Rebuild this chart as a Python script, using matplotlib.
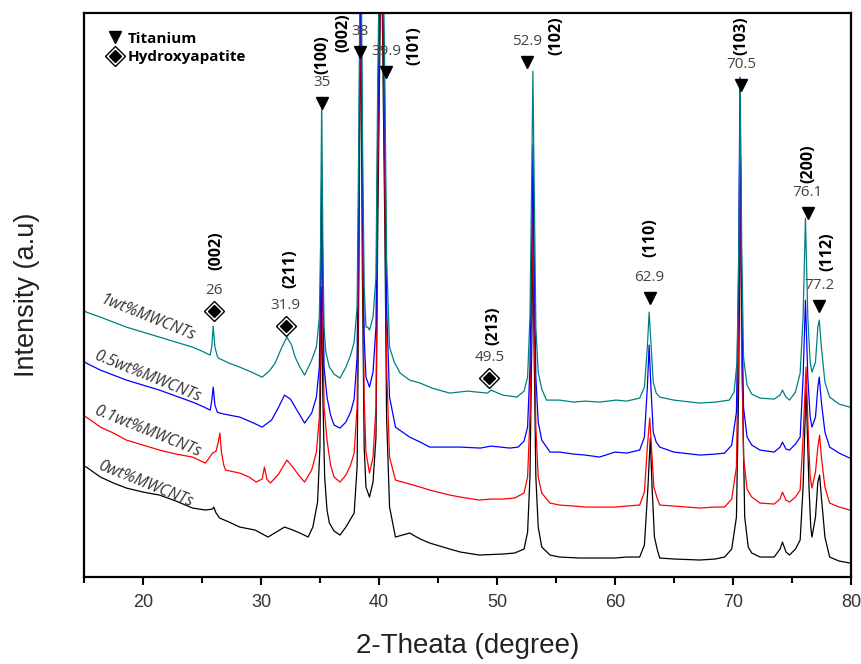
import numpy as np
import matplotlib.pyplot as plt
from matplotlib.lines import Line2D
from matplotlib.legend_handler import HandlerTuple

# XRD patterns, stacked (arbitrary intensity units), pairs of (2-theta, counts)
pat_0wt = np.array([
    (15.0, 111), (15.2, 110), (16.4, 100), (17.5, 94), (18.6, 89), (20.0, 85), (21.4, 82),
    (22.8, 76), (24.2, 69), (25.3, 67), (25.9, 68), (26.0, 70), (26.2, 64), (26.5, 59),
    (27.3, 55), (28.2, 50), (29.5, 47), (30.6, 40), (31.3, 45), (32.0, 50), (32.7, 47),
    (33.3, 44), (34.0, 40), (34.4, 50), (34.8, 75), (35.0, 130), (35.12, 290), (35.25, 180),
    (35.4, 100), (35.6, 67), (35.8, 54), (36.2, 46), (36.7, 42), (37.2, 50), (37.6, 58),
    (37.9, 64), (38.15, 110), (38.3, 300), (38.45, 600), (38.6, 300), (38.75, 130), (38.9, 90),
    (39.2, 80), (39.5, 95), (39.75, 140), (39.9, 350), (40.2, 650), (40.5, 350), (40.65, 160),
    (40.9, 70), (41.4, 40), (42.0, 42), (42.6, 44), (43.5, 38), (44.3, 34), (46.0, 28),
    (46.9, 25), (48.5, 22), (50.5, 23), (51.5, 24), (52.3, 28), (52.6, 45), (52.8, 100),
    (52.95, 230), (53.05, 340), (53.15, 230), (53.3, 100), (53.5, 50), (53.8, 30), (54.5, 22),
    (55.3, 20), (57.0, 19), (58.7, 19), (60.0, 19), (61.0, 20), (62.1, 20), (62.5, 32),
    (62.8, 90), (63.0, 139), (63.15, 90), (63.35, 40), (63.6, 27), (63.8, 19), (65.0, 18),
    (67.2, 17), (68.5, 18), (69.3, 20), (69.9, 28), (70.3, 60), (70.5, 200), (70.65, 420),
    (70.8, 200), (71.0, 60), (71.3, 30), (71.6, 24), (72.3, 20), (73.5, 20), (74.0, 28),
    (74.2, 35), (74.5, 25), (74.8, 22), (75.3, 28), (75.7, 37), (75.95, 90), (76.2, 190),
    (76.45, 90), (76.6, 50), (76.7, 40), (77.0, 60), (77.2, 95), (77.35, 102), (77.5, 80),
    (77.8, 40), (78.2, 20), (79.0, 16), (79.9, 14), (80.0, 14),
])

pat_01wt = np.array([
    (15.0, 161), (15.2, 160), (16.4, 150), (17.5, 144), (18.6, 137), (20.0, 132), (21.4, 127),
    (22.8, 123), (24.2, 120), (25.3, 114), (25.9, 124), (26.2, 126), (26.4, 136), (26.52, 144),
    (26.65, 125), (26.85, 112), (27.0, 107), (28.2, 104), (29.0, 100), (29.6, 95), (30.1, 98),
    (30.3, 110), (30.5, 98), (30.8, 94), (31.5, 103), (32.2, 117), (32.7, 110), (33.2, 102),
    (33.7, 95), (34.3, 107), (34.7, 125), (34.95, 160), (35.05, 250), (35.15, 370), (35.25, 250),
    (35.35, 170), (35.6, 137), (35.9, 112), (36.2, 100), (36.7, 95), (37.2, 102), (37.6, 112),
    (37.9, 124), (38.15, 170), (38.3, 350), (38.45, 620), (38.6, 350), (38.75, 180), (38.9, 125),
    (39.2, 104), (39.5, 120), (39.75, 170), (39.9, 400), (40.2, 680), (40.5, 400), (40.65, 210),
    (40.9, 120), (41.4, 97), (42.0, 95), (42.6, 93), (43.5, 90), (44.3, 87), (46.0, 82),
    (46.9, 80), (48.5, 77), (49.5, 78), (50.5, 78), (51.5, 79), (52.3, 84), (52.6, 100),
    (52.8, 160), (52.95, 270), (53.05, 380), (53.15, 270), (53.3, 150), (53.5, 100), (53.8, 84),
    (54.5, 74), (55.3, 72), (56.5, 71), (57.5, 70), (58.7, 70), (60.0, 70), (61.0, 71),
    (62.1, 72), (62.5, 85), (62.75, 130), (62.95, 159), (63.1, 130), (63.3, 90), (63.55, 80),
    (63.8, 72), (65.0, 71), (67.2, 69), (68.5, 70), (69.3, 70), (69.9, 78), (70.3, 110),
    (70.48, 250), (70.6, 450), (70.72, 250), (70.9, 120), (71.2, 88), (71.6, 80), (72.3, 74),
    (73.5, 73), (74.0, 78), (74.2, 85), (74.5, 77), (74.8, 75), (75.3, 80), (75.7, 87),
    (75.95, 140), (76.2, 210), (76.4, 140), (76.55, 100), (76.7, 89), (77.0, 105), (77.2, 130),
    (77.35, 142), (77.5, 120), (77.8, 90), (78.2, 74), (79.0, 70), (79.9, 67), (80.0, 67),
])

pat_05wt = np.array([
    (15.0, 216), (15.2, 214), (16.4, 207), (17.5, 202), (18.6, 197), (20.0, 192), (21.4, 187),
    (22.8, 181), (24.2, 175), (25.0, 171), (25.7, 167), (25.85, 178), (25.95, 190), (26.1, 172),
    (26.3, 165), (26.5, 164), (27.3, 162), (28.2, 160), (29.2, 155), (30.1, 150), (30.9, 157),
    (31.5, 170), (32.0, 182), (32.5, 178), (32.9, 170), (33.3, 162), (33.7, 154), (34.3, 164),
    (34.7, 180), (34.95, 210), (35.05, 290), (35.15, 412), (35.25, 290), (35.35, 210),
    (35.6, 180), (35.9, 162), (36.2, 152), (36.7, 149), (37.2, 155), (37.6, 165), (37.9, 178),
    (38.15, 220), (38.3, 400), (38.45, 650), (38.6, 400), (38.75, 240), (38.9, 200), (39.2, 190),
    (39.5, 205), (39.75, 250), (39.9, 450), (40.2, 700), (40.5, 450), (40.65, 270), (40.9, 180),
    (41.4, 150), (42.0, 145), (42.6, 140), (43.5, 135), (44.3, 130), (46.9, 130), (48.6, 129),
    (49.5, 131), (51.1, 129), (51.8, 130), (52.3, 136), (52.6, 150), (52.8, 210), (52.95, 330),
    (53.05, 432), (53.15, 330), (53.3, 200), (53.5, 155), (53.8, 137), (54.5, 125), (55.3, 125),
    (56.5, 123), (57.5, 122), (58.7, 120), (60.0, 125), (61.0, 124), (62.1, 127), (62.5, 140),
    (62.75, 190), (62.9, 232), (63.05, 190), (63.25, 145), (63.5, 135), (63.8, 130), (65.0, 125),
    (67.2, 122), (68.5, 123), (69.3, 124), (69.9, 132), (70.3, 165), (70.48, 300), (70.6, 500),
    (70.72, 300), (70.9, 170), (71.2, 140), (71.6, 132), (72.3, 127), (73.5, 125), (74.0, 130),
    (74.2, 135), (74.5, 128), (74.8, 127), (75.3, 133), (75.7, 140), (75.95, 200), (76.15, 277),
    (76.35, 200), (76.55, 160), (76.7, 150), (77.0, 160), (77.2, 190), (77.32, 200), (77.5, 175),
    (77.8, 145), (78.2, 130), (79.0, 124), (79.9, 119), (80.0, 119),
])

pat_1wt = np.array([
    (15.0, 267), (15.2, 265), (16.4, 260), (17.5, 255), (18.6, 250), (20.0, 245), (21.4, 240),
    (22.8, 235), (24.2, 230), (25.0, 226), (25.7, 222), (25.85, 232), (25.95, 251), (26.1, 230),
    (26.3, 221), (26.4, 219), (27.3, 214), (28.2, 210), (29.2, 205), (30.1, 200), (30.7, 206),
    (31.2, 214), (31.7, 228), (32.2, 240), (32.6, 232), (32.9, 220), (33.3, 210), (33.7, 202),
    (34.3, 217), (34.7, 230), (34.95, 260), (35.05, 330), (35.15, 480), (35.25, 330), (35.35, 250),
    (35.5, 225), (35.8, 210), (36.2, 203), (36.7, 199), (37.2, 210), (37.6, 222), (37.9, 235),
    (38.15, 270), (38.3, 450), (38.45, 700), (38.6, 450), (38.75, 290), (38.9, 250), (39.05, 250),
    (39.2, 247), (39.5, 260), (39.75, 300), (39.9, 500), (40.2, 750), (40.5, 500), (40.65, 320),
    (40.9, 230), (41.3, 215), (41.8, 204), (42.6, 197), (43.5, 194), (44.5, 189), (46.0, 184),
    (47.5, 186), (49.2, 184), (49.5, 187), (50.5, 182), (51.7, 180), (52.3, 186), (52.6, 200),
    (52.8, 260), (52.95, 400), (53.05, 506), (53.15, 400), (53.3, 250), (53.5, 205), (53.8, 188),
    (54.2, 177), (55.3, 177), (56.5, 175), (57.5, 176), (58.7, 175), (60.1, 177), (61.0, 176),
    (62.1, 179), (62.5, 190), (62.75, 230), (62.9, 265), (63.05, 235), (63.25, 195), (63.5, 184),
    (63.8, 180), (65.0, 177), (67.2, 174), (68.5, 175), (69.7, 177), (70.1, 185), (70.35, 215),
    (70.5, 330), (70.62, 489), (70.75, 330), (70.9, 220), (71.2, 192), (71.6, 183), (72.3, 179),
    (73.5, 178), (74.0, 182), (74.2, 187), (74.5, 180), (74.8, 177), (75.3, 185), (75.7, 204),
    (75.95, 260), (76.15, 359), (76.35, 260), (76.55, 215), (76.7, 205), (77.0, 215), (77.2, 250),
    (77.32, 257), (77.5, 230), (77.8, 195), (78.2, 180), (79.0, 173), (79.9, 170), (80.0, 170),
])

series_names = ['0wt%MWCNTs', '0.1wt%MWCNTs', '0.5wt%MWCNTs', '1wt%MWCNTs']
series_colors = ['black', '#ff0000', '#0000ff', '#008080']
series_label_pos = [(20.2, 93), (20.4, 145), (20.4, 201), (20.4, 259)]

# titanium reflections: marker position, value label, hkl
ti_pos = [(35.17, 474), (38.4, 525), (40.6, 505), (52.55, 515), (62.95, 279), (70.7, 492),
          (76.35, 364), (77.3, 271)]
ti_vals = ['35', '38', '39.9', '52.9', '62.9', '70.5', '76.1', '77.2']
ti_hkl = ['(100)', '(002)', '(101)', '(102)', '(110)', '(103)', '(200)', '(112)']
ti_hkl_pos = [(35.17, 523), (36.95, 545), (42.97, 532), (55.08, 542), (62.97, 340),
              (70.76, 542), (76.36, 414), (77.97, 325)]

# hydroxyapatite reflections
ha_pos = [(26.0, 266), (32.1, 251), (49.35, 199)]
ha_vals = ['26', '31.9', '49.5']
ha_hkl = ['(002)', '(211)', '(213)']
ha_hkl_pos = [(26.2, 326), (32.5, 308), (49.66, 251)]

fig = plt.figure(figsize=(8.62, 6.64), dpi=100)
ax = fig.add_axes([0.0974, 0.131, 0.8897, 0.849])

for pat, c in zip([pat_0wt, pat_01wt, pat_05wt, pat_1wt], series_colors):
    ax.plot(pat[:, 0], pat[:, 1], color=c, lw=0.9)

lab_font = ['Open Sans', 'DejaVu Sans']
for name, (x, y) in zip(series_names, series_label_pos):
    ax.text(x, y, name, rotation=-22, ha='center', va='center', fontsize=11.5,
            style='italic', color='#333333', family=lab_font)

num_color = '#444444'
for (x, y), v, hkl, (hx, hy) in zip(ti_pos, ti_vals, ti_hkl, ti_hkl_pos):
    ax.plot(x, y, marker='v', ms=9, color='black', ls='none', zorder=5)
    ax.text(x, y + 13, v, ha='center', va='bottom', fontsize=11, color=num_color,
            family=lab_font, zorder=5)
    ax.text(hx, hy, hkl, rotation=90, ha='center', va='center', fontsize=11.5,
            fontweight='bold', family=lab_font, zorder=5)

for (x, y), v, hkl, (hx, hy) in zip(ha_pos, ha_vals, ha_hkl, ha_hkl_pos):
    ax.plot(x, y, marker='D', ms=10, mfc='white', mec='black', mew=1.0, ls='none', zorder=5)
    ax.plot(x, y, marker='D', ms=6, color='black', ls='none', zorder=6)
    ax.text(x, y + 13, v, ha='center', va='bottom', fontsize=11, color=num_color,
            family=lab_font, zorder=5)
    ax.text(hx, hy, hkl, rotation=90, ha='center', va='center', fontsize=11.5,
            fontweight='bold', family=lab_font, zorder=5)

h_ti = Line2D([], [], marker='v', ms=9, color='black', ls='none')
h_ha = (Line2D([], [], marker='D', ms=10, mfc='white', mec='black', mew=1.0, ls='none'),
        Line2D([], [], marker='D', ms=6, color='black', ls='none'))
leg = ax.legend([h_ti, h_ha], ['Titanium', 'Hydroxyapatite'], loc='upper left',
                bbox_to_anchor=(0.012, 0.992), frameon=False, handlelength=1.0,
                handletextpad=0.35, labelspacing=0.3,
                handler_map={tuple: HandlerTuple(ndivide=1, pad=0)},
                prop={'family': lab_font, 'weight': 'bold', 'size': 11})

ax.set_xlim(15, 80)
ax.set_ylim(0, 564)
ax.set_xticks(np.arange(20, 81, 10))
ax.set_xticks(np.arange(15, 81, 5), minor=True)
ax.set_yticks([])
ax.tick_params(axis='x', which='major', direction='out', length=6, width=1.5,
               labelsize=13, pad=6, colors='black', labelcolor='#333333')
ax.tick_params(axis='x', which='minor', direction='out', length=4, width=1.5)
for lbl in ax.get_xticklabels():
    lbl.set_family('Liberation Sans')
for sp in ax.spines.values():
    sp.set_linewidth(1.6)

ax.set_xlabel('2-Theata (degree)', fontsize=20, family='Liberation Sans', color='#222222')
ax.set_ylabel('Intensity (a.u)', fontsize=19.5, family='Liberation Sans', color='#222222')
ax.xaxis.set_label_coords(0.5, -0.1)
ax.yaxis.set_label_coords(-0.057, 0.5)

fig.savefig('out.png', dpi=100)
